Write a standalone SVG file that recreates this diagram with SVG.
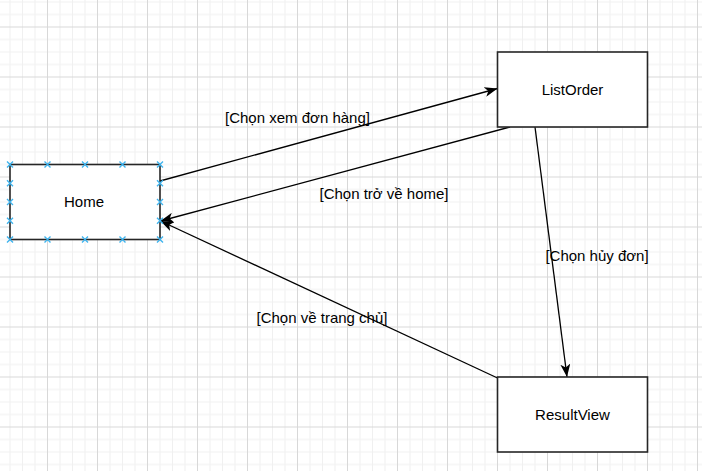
<svg xmlns="http://www.w3.org/2000/svg" width="702" height="471" viewBox="0 0 702 471">
  <style>
    .box { fill: #ffffff; stroke: #262626; stroke-width: 1.6; }
    .lbl { font-family: "Liberation Sans", Arial, sans-serif; font-size: 15px; fill: #000000; text-anchor: middle; }
    .edge { fill: none; stroke: #000000; stroke-width: 1.3; marker-end: url(#arrow); }
    .pt { stroke: #3fb4ee; stroke-width: 1.4; fill: none; }
  </style>
  <defs>
    <pattern id="grid" patternUnits="userSpaceOnUse" x="47" y="26.5" width="50" height="50">
      <rect x="12.5" y="0" width="1" height="50" fill="#f0f0f0"/>
      <rect x="25" y="0" width="1" height="50" fill="#f0f0f0"/>
      <rect x="37.5" y="0" width="1" height="50" fill="#f0f0f0"/>
      <rect x="0" y="12.5" width="50" height="1" fill="#f0f0f0"/>
      <rect x="0" y="25" width="50" height="1" fill="#f0f0f0"/>
      <rect x="0" y="37.5" width="50" height="1" fill="#f0f0f0"/>
      <rect x="0" y="0" width="1" height="50" fill="#d8d8d8"/>
      <rect x="0" y="0" width="50" height="1" fill="#d8d8d8"/>
    </pattern>
    <marker id="arrow" markerUnits="userSpaceOnUse" viewBox="0 0 13 10" refX="13" refY="5" markerWidth="13" markerHeight="10" orient="auto">
      <path d="M13,5 L0,0 L3.5,5 L0,10 Z" fill="#000000"/>
    </marker>
    <path id="x" d="M-3,-3 L3,3 M-3,3 L3,-3"/>
  </defs>
  <rect x="0" y="0" width="702" height="471" fill="#ffffff"/>
  <rect x="0" y="0" width="702" height="471" fill="url(#grid)"/>

  <g id="connectors">
    <line class="edge" x1="160" y1="181" x2="497.5" y2="88.5"/>
    <line class="edge" x1="510" y1="127" x2="160.5" y2="221"/>
    <line class="edge" x1="535" y1="127" x2="567" y2="377"/>
    <line class="edge" x1="497.5" y1="378" x2="160.5" y2="221"/>
    <text class="lbl" x="297.5" y="123">[Chọn xem đơn hàng]</text>
    <text class="lbl" x="384" y="199">[Chọn trở về home]</text>
    <text class="lbl" x="597" y="261">[Chọn hủy đơn]</text>
    <text class="lbl" x="322" y="323">[Chọn về trang chủ]</text>
  </g>

  <g id="home">
    <rect class="box" x="10" y="164.5" width="150" height="75"/>
    <text class="lbl" x="84" y="207">Home</text>
    <g class="pt">
      <use href="#x" x="10" y="164.5"/><use href="#x" x="47.5" y="164.5"/><use href="#x" x="85" y="164.5"/><use href="#x" x="122.5" y="164.5"/><use href="#x" x="160" y="164.5"/>
      <use href="#x" x="10" y="239.5"/><use href="#x" x="47.5" y="239.5"/><use href="#x" x="85" y="239.5"/><use href="#x" x="122.5" y="239.5"/><use href="#x" x="160" y="239.5"/>
      <use href="#x" x="10" y="183.25"/><use href="#x" x="10" y="202"/><use href="#x" x="10" y="220.75"/>
      <use href="#x" x="160" y="183.25"/><use href="#x" x="160" y="202"/><use href="#x" x="160" y="220.75"/>
    </g>
  </g>

  <g id="listorder">
    <rect class="box" x="497.5" y="52" width="150" height="75"/>
    <text class="lbl" x="572.5" y="95">ListOrder</text>
  </g>

  <g id="resultview">
    <rect class="box" x="497.5" y="377" width="150" height="75"/>
    <text class="lbl" x="572.5" y="420">ResultView</text>
  </g>
</svg>
